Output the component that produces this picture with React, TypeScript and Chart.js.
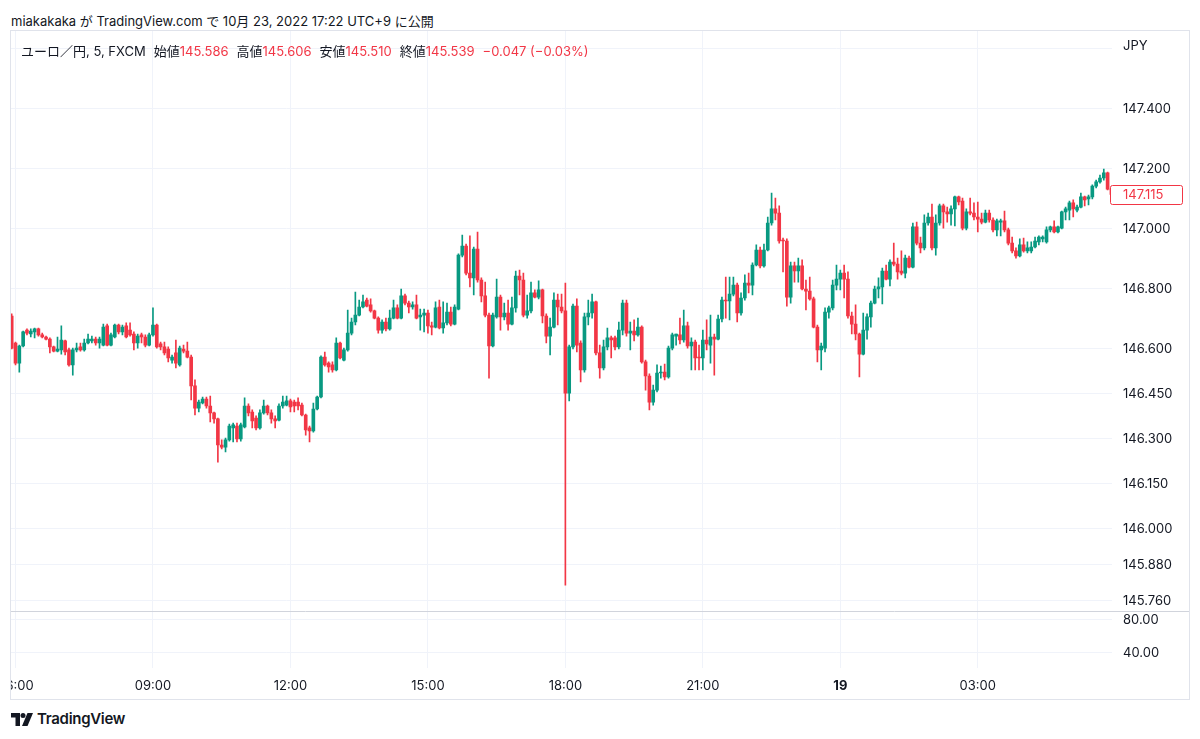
import React, { useEffect, useRef } from "react";
import { Chart, registerables } from "chart.js";

Chart.register(...registerables);

const FONT = "Inter, 'Noto Sans CJK JP', 'DejaVu Sans', sans-serif";
const TEXT = "#131722";
const UP = "#089981";
const DOWN = "#F23645";
const GRID = "#f0f3fa";
const FRAME = "#e0e3eb";

const sessionStart = "05:55";
const barMinutes = 5;

const opens = [
  146.710,146.620,146.553,146.610,146.663,146.650,146.657,146.667,146.647,146.640,
  146.633,146.607,146.593,146.597,146.627,146.597,146.547,146.597,146.607,146.597,
  146.620,146.627,146.633,146.620,146.613,146.677,146.613,146.640,146.680,146.657,
  146.677,146.663,146.650,146.620,146.647,146.640,146.613,146.647,146.680,146.617,
  146.607,146.600,146.563,146.587,146.547,146.600,146.593,146.573,146.477,146.403,
  146.420,146.433,146.410,146.387,146.367,146.280,146.273,146.297,146.337,146.343,
  146.300,146.340,146.410,146.390,146.370,146.337,146.387,146.410,146.387,146.367,
  146.363,146.410,146.413,146.427,146.423,146.423,146.413,146.380,146.337,146.327,
  146.400,146.440,146.573,146.553,146.547,146.530,146.620,146.563,146.597,146.653,
  146.690,146.713,146.740,146.763,146.747,146.727,146.703,146.663,146.690,146.667,
  146.703,146.737,146.703,146.777,146.753,146.740,146.747,146.707,146.713,146.720,
  146.677,146.673,146.740,146.670,146.687,146.723,146.683,146.733,146.913,146.943,
  146.853,146.837,146.933,146.830,146.777,146.713,146.610,146.707,146.773,146.707,
  146.720,146.683,146.737,146.843,146.830,146.713,146.727,146.787,146.773,146.797,
  146.710,146.643,146.673,146.763,146.740,146.727,146.453,146.607,146.743,146.620,
  146.530,146.707,146.720,146.757,146.587,146.537,146.607,146.637,146.637,146.607,
  146.663,146.753,146.653,146.660,146.647,146.673,146.557,146.510,146.423,146.463,
  146.520,146.523,146.507,146.603,146.643,146.647,146.630,146.677,146.610,146.623,
  146.573,146.570,146.630,146.613,146.640,146.633,146.700,146.763,146.760,146.783,
  146.813,146.720,146.770,146.820,146.813,146.880,146.930,146.877,146.930,147.020,
  147.067,147.053,146.963,146.960,146.773,146.877,146.860,146.877,146.800,146.793,
  146.767,146.673,146.597,146.603,146.723,146.737,146.813,146.833,146.853,146.833,
  146.710,146.683,146.650,146.583,146.663,146.707,146.753,146.800,146.807,146.860,
  146.833,146.890,146.883,146.860,146.853,146.903,146.873,147.007,146.953,146.937,
  147.020,147.040,146.937,147.020,147.077,147.057,147.050,147.067,147.107,147.093,
  147.003,147.057,147.053,147.040,147.033,147.023,147.053,147.030,146.997,147.023,
  147.027,146.997,146.953,146.927,146.910,146.947,146.927,146.927,146.940,146.957,
  146.967,146.957,146.997,147.007,146.990,147.003,147.057,147.063,147.087,147.063,
  147.073,147.107,147.100,147.107,147.143,147.157,147.170,147.187,147.133,
];

const highs = [
  146.717,146.623,146.613,146.660,146.667,146.667,146.670,146.670,146.653,146.643,
  146.637,146.610,146.640,146.677,146.630,146.603,146.603,146.620,146.620,146.633,
  146.650,146.643,146.640,146.640,146.683,146.683,146.653,146.683,146.683,146.680,
  146.687,146.687,146.657,146.650,146.653,146.647,146.653,146.737,146.683,146.623,
  146.623,146.607,146.580,146.630,146.610,146.613,146.623,146.580,146.497,146.430,
  146.440,146.440,146.443,146.390,146.370,146.297,146.303,146.350,146.353,146.353,
  146.353,146.437,146.417,146.397,146.377,146.397,146.430,146.413,146.397,146.377,
  146.417,146.443,146.443,146.433,146.430,146.437,146.420,146.383,146.343,146.420,
  146.443,146.577,146.590,146.557,146.557,146.637,146.623,146.603,146.730,146.703,
  146.790,146.763,146.780,146.770,146.767,146.730,146.707,146.697,146.703,146.730,
  146.763,146.747,146.800,146.783,146.760,146.757,146.780,146.733,146.733,146.730,
  146.690,146.757,146.763,146.757,146.753,146.740,146.747,146.917,146.980,146.950,
  146.977,146.940,146.990,146.837,146.823,146.720,146.720,146.833,146.780,146.753,
  146.763,146.773,146.860,146.863,146.853,146.780,146.823,146.797,146.827,146.800,
  146.717,146.703,146.787,146.783,146.783,146.820,146.613,146.750,146.767,146.627,
  146.720,146.763,146.783,146.760,146.613,146.630,146.670,146.643,146.643,146.690,
  146.763,146.763,146.690,146.697,146.703,146.677,146.563,146.517,146.480,146.547,
  146.543,146.550,146.610,146.653,146.650,146.703,146.730,146.690,146.637,146.630,
  146.613,146.663,146.697,146.713,146.650,146.713,146.773,146.840,146.840,146.840,
  146.820,146.787,146.847,146.853,146.887,146.947,146.940,146.950,147.040,147.120,
  147.103,147.077,146.970,146.967,146.890,146.890,146.903,146.897,146.830,146.840,
  146.773,146.680,146.620,146.737,146.743,146.830,146.880,146.863,146.880,146.857,
  146.723,146.747,146.653,146.720,146.717,146.760,146.810,146.837,146.870,146.880,
  146.897,146.953,146.903,146.927,146.913,146.910,147.020,147.023,146.973,147.047,
  147.053,147.083,147.047,147.083,147.083,147.073,147.077,147.110,147.110,147.103,
  147.067,147.103,147.087,147.090,147.053,147.063,147.063,147.037,147.033,147.033,
  147.060,147.003,146.973,146.937,146.967,146.970,146.957,146.957,146.973,146.977,
  146.977,147.007,147.010,147.027,147.010,147.060,147.073,147.093,147.097,147.080,
  147.120,147.110,147.113,147.147,147.163,147.180,147.200,147.190,147.140,
];

const lows = [
  146.600,146.547,146.523,146.607,146.647,146.640,146.637,146.643,146.637,146.630,
  146.587,146.590,146.590,146.583,146.580,146.543,146.513,146.590,146.593,146.593,
  146.617,146.620,146.613,146.603,146.610,146.610,146.610,146.637,146.650,146.647,
  146.637,146.643,146.597,146.603,146.620,146.607,146.610,146.643,146.603,146.597,
  146.580,146.557,146.553,146.537,146.543,146.587,146.570,146.430,146.380,146.390,
  146.417,146.403,146.357,146.353,146.223,146.267,146.257,146.293,146.290,146.290,
  146.293,146.337,146.377,146.337,146.330,146.333,146.383,146.380,146.353,146.337,
  146.360,146.403,146.410,146.390,146.390,146.397,146.377,146.313,146.290,146.323,
  146.397,146.437,146.543,146.523,146.523,146.527,146.567,146.560,146.593,146.647,
  146.680,146.710,146.737,146.740,146.723,146.700,146.653,146.653,146.660,146.663,
  146.700,146.700,146.700,146.747,146.720,146.733,146.700,146.663,146.657,146.653,
  146.647,146.670,146.667,146.653,146.680,146.677,146.680,146.730,146.907,146.847,
  146.807,146.780,146.823,146.757,146.707,146.503,146.607,146.703,146.663,146.697,
  146.663,146.680,146.723,146.780,146.707,146.703,146.720,146.770,146.767,146.687,
  146.620,146.580,146.670,146.680,146.720,145.813,146.427,146.600,146.590,146.490,
  146.523,146.680,146.703,146.580,146.503,146.530,146.597,146.570,146.597,146.600,
  146.647,146.643,146.597,146.627,146.643,146.553,146.463,146.397,146.413,146.457,
  146.503,146.497,146.503,146.597,146.613,146.617,146.623,146.603,146.530,146.530,
  146.530,146.530,146.597,146.553,146.513,146.630,146.690,146.703,146.697,146.777,
  146.690,146.713,146.763,146.787,146.780,146.877,146.870,146.873,146.927,147.013,
  147.030,146.953,146.857,146.743,146.753,146.823,146.823,146.797,146.730,146.763,
  146.670,146.557,146.530,146.590,146.703,146.730,146.797,146.797,146.770,146.703,
  146.650,146.630,146.507,146.580,146.633,146.673,146.750,146.770,146.750,146.830,
  146.810,146.877,146.833,146.847,146.837,146.870,146.870,146.947,146.920,146.930,
  147.013,146.930,146.913,147.013,147.003,147.023,147.013,147.010,147.080,146.997,
  146.997,147.047,147.030,146.990,147.017,147.020,147.023,146.990,146.977,146.977,
  146.990,146.947,146.920,146.903,146.907,146.923,146.920,146.920,146.937,146.947,
  146.957,146.953,146.990,146.987,146.987,147.000,147.030,147.030,147.040,147.057,
  147.070,147.077,147.080,147.100,147.137,147.153,147.163,147.130,147.107,
];

const closes = [
  146.603,146.553,146.610,146.657,146.653,146.660,146.667,146.647,146.640,146.633,
  146.607,146.593,146.600,146.630,146.590,146.547,146.597,146.603,146.597,146.620,
  146.633,146.633,146.620,146.633,146.673,146.613,146.647,146.680,146.657,146.673,
  146.640,146.647,146.620,146.643,146.640,146.613,146.647,146.680,146.607,146.607,
  146.587,146.570,146.573,146.553,146.603,146.593,146.573,146.477,146.403,146.423,
  146.433,146.410,146.387,146.367,146.280,146.273,146.297,146.343,146.347,146.300,
  146.347,146.410,146.387,146.360,146.337,146.387,146.410,146.387,146.367,146.360,
  146.410,146.423,146.427,146.407,146.410,146.410,146.380,146.330,146.327,146.400,
  146.440,146.573,146.547,146.540,146.530,146.620,146.570,146.597,146.653,146.690,
  146.713,146.740,146.757,146.743,146.727,146.703,146.663,146.690,146.667,146.703,
  146.737,146.703,146.777,146.753,146.740,146.747,146.703,146.713,146.720,146.677,
  146.673,146.737,146.670,146.687,146.723,146.683,146.740,146.913,146.943,146.853,
  146.837,146.933,146.830,146.777,146.713,146.610,146.713,146.773,146.707,146.720,
  146.683,146.737,146.843,146.830,146.713,146.727,146.787,146.773,146.797,146.710,
  146.643,146.673,146.763,146.740,146.727,146.453,146.607,146.743,146.613,146.530,
  146.707,146.720,146.757,146.587,146.537,146.607,146.637,146.630,146.607,146.663,
  146.753,146.653,146.660,146.647,146.673,146.557,146.510,146.423,146.463,146.520,
  146.523,146.507,146.603,146.647,146.650,146.630,146.677,146.610,146.623,146.570,
  146.570,146.630,146.617,146.640,146.633,146.700,146.763,146.760,146.783,146.813,
  146.720,146.770,146.820,146.813,146.880,146.930,146.877,146.930,147.020,147.067,
  147.053,146.960,146.960,146.773,146.877,146.860,146.877,146.800,146.793,146.767,
  146.673,146.597,146.610,146.723,146.737,146.813,146.833,146.853,146.833,146.710,
  146.683,146.650,146.583,146.663,146.707,146.753,146.800,146.807,146.860,146.833,
  146.890,146.883,146.857,146.853,146.903,146.873,147.007,146.953,146.937,147.020,
  147.040,146.937,147.020,147.077,147.057,147.050,147.067,147.107,147.090,147.003,
  147.057,147.053,147.040,147.033,147.023,147.053,147.030,146.997,147.027,147.027,
  146.997,146.953,146.927,146.910,146.947,146.927,146.937,146.940,146.960,146.973,
  146.973,146.997,147.007,146.990,147.007,147.057,147.067,147.087,147.067,147.073,
  147.107,147.097,147.107,147.143,147.157,147.170,147.187,147.133,147.115,
];

const priceTicks = [145.76, 145.88, 146.0, 146.15, 146.3, 146.45, 146.6, 146.8, 147.0, 147.2, 147.4, 147.6];
const lowerTicks = [40, 80];
const axisTimes = ["06:00", "09:00", "12:00", "15:00", "18:00", "21:00", "00:00", "03:00"];
const axisLabels = ["06:00", "09:00", "12:00", "15:00", "18:00", "21:00", "19", "03:00"];
const lastPrice = 147.115;

const headerText = "miakakaka が TradingView.com で 10月 23, 2022 17:22 UTC+9 に公開";
const symbolText = "ユーロ／円, 5, FXCM";
const ohlcLabels = ["始値", "高値", "安値", "終値"];
const ohlcValues = ["145.586", "145.606", "145.510", "145.539"];
const changeText = "−0.047 (−0.03%)";
const currencyText = "JPY";

const pad = (n: number) => String(n).padStart(2, "0");

export default function App() {
  const ref = useRef<HTMLCanvasElement>(null);

  useEffect(() => {
    const canvas = ref.current;
    if (!canvas) return;
    const [sh, sm] = sessionStart.split(":").map(Number);
    const times = closes.map((_, i) => {
      const t = (sh * 60 + sm + i * barMinutes) % 1440;
      return pad(Math.floor(t / 60)) + ":" + pad(t % 60);
    });
    const tickIdx = axisTimes.map((t) => times.indexOf(t));
    const colors = closes.map((c, i) => (c >= opens[i] ? UP : DOWN));
    const idx = closes.map((_, i) => i);

    const overlay = {
      id: "tvOverlay",
      afterDraw(chart: any) {
        const { ctx, chartArea, scales } = chart;
        ctx.save();
        const yd = Math.round(scales.y2.top) + 0.5;
        ctx.strokeStyle = "#d1d4dc";
        ctx.lineWidth = 1;
        ctx.beginPath();
        ctx.moveTo(0, yd);
        ctx.lineTo(chart.width, yd);
        ctx.stroke();
        const py = scales.y.getPixelForValue(lastPrice);
        const bx = Math.round(chartArea.right) - 1.5;
        const bh = 19;
        const bw = 72;
        const by = Math.round(py - bh / 2) + 0.5;
        ctx.fillStyle = "#ffffff";
        ctx.strokeStyle = DOWN;
        ctx.beginPath();
        if ((ctx as any).roundRect) (ctx as any).roundRect(bx, by, bw, bh, 2);
        else ctx.rect(bx, by, bw, bh);
        ctx.fill();
        ctx.stroke();
        ctx.fillStyle = DOWN;
        ctx.font = `13px ${FONT}`;
        ctx.textAlign = "left";
        ctx.textBaseline = "middle";
        ctx.fillText(lastPrice.toFixed(3), chartArea.right + 11, py + 0.5);
        ctx.restore();
      },
    };

    const chart = new Chart(canvas, {
      type: "bar",
      data: {
        datasets: [
          {
            label: "wick",
            data: idx.map((i) => ({ x: i, y: [lows[i], highs[i]] })) as any,
            backgroundColor: colors,
            barThickness: 1,
            grouped: false,
            yAxisID: "y",
            order: 2,
          } as any,
          {
            label: "body",
            data: idx.map((i) => ({ x: i, y: [opens[i], closes[i]] })) as any,
            backgroundColor: colors,
            barThickness: 3,
            minBarLength: 1,
            grouped: false,
            yAxisID: "y",
            order: 1,
          } as any,
        ],
      },
      options: {
        responsive: false,
        animation: false,
        events: [],
        layout: { padding: 0, autoPadding: false } as any,
        plugins: { legend: { display: false }, tooltip: { enabled: false } },
        scales: {
          x: {
            type: "linear",
            position: "bottom",
            offset: false,
            min: -0.18,
            max: 288.15,
            bounds: "data",
            grid: { color: GRID, drawTicks: false, lineWidth: 1, offset: false },
            border: { display: false },
            ticks: {
              color: TEXT,
              padding: 10,
              maxRotation: 0,
              autoSkip: false,
              font: (c: any) => ({
                family: FONT,
                size: 13,
                weight: c.tick && c.tick.label === axisLabels[6] ? "bold" : "normal",
              }),
              callback: (v: any) => {
                const j = tickIdx.indexOf(Number(v));
                return j >= 0 ? axisLabels[j] : "";
              },
            },
            afterBuildTicks: (s: any) => {
              s.ticks = tickIdx.map((v) => ({ value: v }));
            },
            afterFit: (s: any) => {
              s.paddingLeft = 0;
              s.paddingRight = 0;
              s.height = 31;
            },
          } as any,
          y: {
            type: "linear",
            position: "right",
            stack: "pane",
            stackWeight: 579.5,
            min: 145.7283,
            max: 147.66,
            bounds: "data",
            grid: { color: GRID, drawTicks: false },
            border: { display: false },
            ticks: {
              color: TEXT,
              padding: 11,
              font: { family: FONT, size: 13 },
              callback: (v: any) => (Number(v) > 147.5 ? "" : Number(v).toFixed(3)),
            },
            afterBuildTicks: (s: any) => {
              s.ticks = priceTicks.map((v) => ({ value: v }));
            },
            afterFit: (s: any) => {
              s.width = 77;
              s.paddingTop = 0;
              s.paddingBottom = 0;
            },
          } as any,
          y2: {
            type: "linear",
            position: "right",
            stack: "pane",
            stackWeight: 57.5,
            min: 21.5,
            max: 91.0,
            bounds: "data",
            grid: { color: GRID, drawTicks: false },
            border: { display: false },
            ticks: {
              color: TEXT,
              padding: 11,
              font: { family: FONT, size: 13 },
              callback: (v: any) => Number(v).toFixed(2),
            },
            afterBuildTicks: (s: any) => {
              s.ticks = lowerTicks.map((v) => ({ value: v }));
            },
            afterFit: (s: any) => {
              s.width = 77;
              s.paddingTop = 0;
              s.paddingBottom = 0;
            },
          } as any,
        },
      },
      plugins: [overlay as any],
    });
    return () => chart.destroy();
  }, []);

  return (
    <div
      style={{
        position: "absolute",
        left: 0,
        top: 0,
        width: 1200,
        height: 739,
        background: "#ffffff",
        fontFamily: FONT,
        color: TEXT,
        overflow: "hidden",
      }}
    >
      <div style={{ position: "absolute", left: 11, top: 12, fontSize: 13, lineHeight: "18px", whiteSpace: "nowrap" }}>
        {headerText}
      </div>
      <div
        style={{
          position: "absolute",
          left: 10,
          top: 30,
          width: 1180,
          height: 670,
          border: `1px solid ${FRAME}`,
          boxSizing: "border-box",
        }}
      />
      <canvas
        ref={ref}
        width={1178}
        height={668}
        style={{ position: "absolute", left: 11, top: 31, width: 1178, height: 668, display: "block" }}
      />
      <div
        style={{
          position: "absolute",
          left: 21,
          top: 42,
          fontSize: 13,
          lineHeight: "18px",
          whiteSpace: "nowrap",
          display: "flex",
          gap: 8,
        }}
      >
        <span>{symbolText}</span>
        {ohlcLabels.map((l, i) => (
          <span key={l}>
            {l}
            <span style={{ color: DOWN }}>{ohlcValues[i]}</span>
          </span>
        ))}
        <span style={{ color: DOWN }}>{changeText}</span>
      </div>
      <div style={{ position: "absolute", left: 1123, top: 36, fontSize: 13, lineHeight: "18px" }}>{currencyText}</div>
      <div style={{ position: "absolute", left: 11, top: 710, display: "flex", alignItems: "center", gap: 4 }}>
        <svg width="22" height="13" viewBox="0 0 22 13">
          <path d="M0 0h9v13h-4.5v-8.5h-4.5z" fill={TEXT} />
          <circle cx="12" cy="2.5" r="2.5" fill={TEXT} />
          <path d="M16.5 0h5.5l-5.5 13h-5.5z" fill={TEXT} />
        </svg>
        <span style={{ fontSize: 15, fontWeight: 600, lineHeight: "18px", letterSpacing: -0.3 }}>TradingView</span>
      </div>
    </div>
  );
}
